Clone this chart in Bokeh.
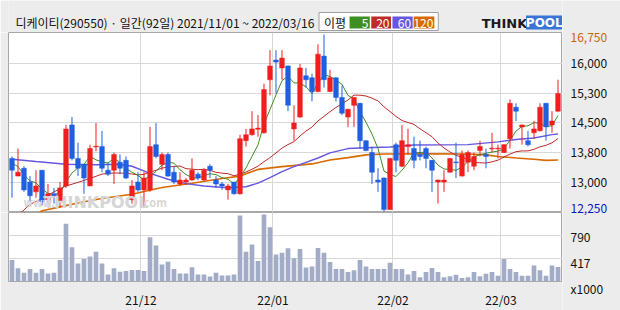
import numpy as np
from bokeh.plotting import figure
from bokeh.models import Range1d, FixedTicker, Grid, Label, ColumnDataSource
from bokeh.layouts import column, row
from bokeh.embed import file_html
from bokeh.resources import INLINE
from bokeh.core.properties import value

# ---------------- data ----------------
opens = [13600, 13150, 13350, 13000, 12750, 13300, 12550, 12700, 12500, 12900,
         14450, 13600, 13450, 12900, 13890, 13900, 13300, 13300, 13500, 13550,
         12550, 13000, 12800, 12800, 13950, 13450, 13700, 13250, 12950, 13000,
         13050, 13200, 13050, 13400, 13050, 12950, 12800, 13000, 12700, 14050,
         14200, 14340, 14250, 15600, 16100, 15900, 15950, 14350, 14650, 15700,
         15650, 15300, 16200, 15300, 15650, 15150, 14650, 14950, 15000, 14050,
         13750, 13050, 13100, 12300, 13950, 13400, 13900, 13850, 13700, 13850,
         13550, 13000, 13000, 13250, 13510, 13150, 13500, 13400, 13800, 13700,
         13840, 13840, 13750, 14100, 14900, 14400, 14050, 14250, 14300, 15000,
         14450, 14800]
highs = [13650, 13850, 13400, 13150, 13300, 13300, 12950, 12850, 13000, 14450,
         14650, 14000, 13450, 13950, 14500, 14300, 13500, 13750, 13700, 13650,
         13050, 13250, 13250, 14400, 14500, 13750, 13750, 13400, 13250, 13100,
         13600, 13250, 13350, 13450, 13150, 13000, 12950, 13000, 14200, 14350,
         14800, 14700, 15500, 16350, 16350, 16350, 15960, 14950, 16000, 15900,
         15750, 16500, 16750, 15850, 15660, 15450, 14860, 15160, 15010, 14060,
         13900, 13350, 13120, 13610, 14000, 14450, 14350, 14150, 14050, 13900,
         13560, 13060, 13300, 13610, 14000, 13800, 13800, 13750, 14050, 13850,
         14250, 13950, 13960, 15100, 15000, 14460, 14300, 14550, 15000, 15010,
         14800, 15600]
lows = [12600, 13150, 12750, 12500, 12600, 12400, 12500, 12450, 12350, 12850,
        13550, 13150, 12700, 12900, 13780, 13250, 13150, 12950, 13200, 13080,
        12450, 12750, 12350, 12750, 13600, 13300, 13130, 12950, 12900, 12920,
        13030, 13050, 13030, 13100, 12850, 12800, 12550, 12680, 12680, 13900,
        14180, 14150, 14230, 15200, 15250, 15600, 14800, 14050, 14630, 15400,
        15050, 15280, 15400, 15280, 15050, 14700, 14400, 14400, 13850, 13780,
        12950, 12750, 12250, 12290, 13250, 13380, 13700, 13350, 13550, 13350,
        12750, 12450, 12750, 13240, 13100, 13140, 13250, 13300, 13650, 13350,
        13750, 13600, 13740, 13850, 14550, 13950, 13900, 14100, 14290, 14050,
        14250, 14790]
closes = [13300, 13250, 12800, 12650, 12900, 12500, 12700, 12650, 12850, 14350,
          13600, 13350, 13100, 13850, 13910, 13350, 13200, 13700, 13350, 13100,
          12900, 12800, 13100, 13900, 13650, 13700, 13150, 13000, 13050, 13050,
          13300, 13100, 13300, 13300, 12950, 12900, 12900, 12700, 14100, 14200,
          14350, 14370, 15350, 15950, 16050, 16150, 14950, 14500, 15900, 15600,
          15300, 16250, 15600, 15650, 15150, 14750, 14850, 15150, 14050, 13800,
          13250, 13000, 12300, 13600, 13550, 14050, 13950, 13550, 13650, 13600,
          13300, 13050, 13050, 13600, 13490, 13700, 13750, 13650, 13900, 13650,
          13860, 13860, 13950, 15000, 14800, 14450, 13950, 14350, 14900, 14400,
          14550, 15250]
volumes = [392, 260, 186, 245, 186, 245, 172, 186, 392, 981,
           599, 334, 407, 451, 525, 334, 157, 260, 201, 216,
           230, 230, 216, 761, 628, 319, 363, 245, 172, 172,
           275, 157, 157, 127, 186, 142, 142, 157, 1114, 525,
           643, 378, 1129, 923, 481, 510, 584, 422, 571, 273,
           288, 586, 511, 362, 248, 248, 198, 228, 392, 288,
           248, 248, 248, 347, 248, 248, 158, 213, 114, 198,
           263, 198, 114, 129, 153, 99, 114, 198, 129, 168,
           198, 139, 407, 248, 198, 139, 139, 303, 228, 139,
           303, 280]

# moving-average values that depend on days before the window
ma5_head = [13480, 13390, 13180, 13030]
ma20_head_x = [1, 3, 5, 7, 9, 11, 13, 15, 17]
ma20_head = [12150, 12430, 12580, 12750, 12900, 12990, 13090, 13200, 13230]
ma60_x = [0, 4, 9, 14, 18, 20, 23, 26, 29, 32, 36, 39, 41, 43, 45, 47, 49, 51,
          53, 56, 59, 63, 67, 76, 81, 84, 87, 90, 91]
ma60 = [13580, 13520, 13450, 13440, 13450, 13400, 13220, 13070, 12960, 12900,
        12855, 12880, 12970, 13110, 13265, 13390, 13500, 13610, 13740, 13850,
        13870, 13890, 13940, 13950, 14020, 14080, 14120, 14205, 14220]
ma120_x = [4, 5, 9, 12, 15, 20, 25, 30, 35, 38, 41, 45, 50, 53, 56, 59, 62, 70,
           76, 79, 81, 84, 87, 89, 91]
ma120 = [12160, 12270, 12400, 12500, 12580, 12690, 12860, 12970, 13090, 13150,
         13320, 13390, 13460, 13560, 13620, 13690, 13710, 13720, 13710, 13690,
         13650, 13610, 13580, 13550, 13560]

month_pos = [21.5, 43.5, 63.5, 81.5]
month_labels = ["21/12", "22/01", "22/02", "22/03"]
price_ticks = [13000, 13750, 14500, 15250, 16000]
price_tick_labels = ["13,000", "13,800", "14,500", "15,300", "16,000"]
price_max, price_min = 16750, 12250
price_max_label, price_min_label = "16,750", "12,250"
vol_ticks = [44, 417, 790]
vol_tick_labels = ["x1000", "417", "790"]
title_text = "디케이티(290550) · 일간(92일) 2021/11/01 ~ 2022/03/16"
legend_title = "이평"
legend_items = ["5", "20", "60", "120"]

# ---------------- derived ----------------
n = len(closes)
xs = np.arange(n)
c_arr = np.array(closes, dtype=float)
ma5 = list(ma5_head) + [c_arr[i - 4:i + 1].mean() for i in range(4, n)]
ma20_x = list(ma20_head_x) + list(range(19, n))
ma20 = list(ma20_head) + [c_arr[i - 19:i + 1].mean() for i in range(19, n)]

RED = "#F01E1E"
BLUE = "#1F5FE0"
C5, C20, C60, C120 = "#3E8E22", "#C02A2A", "#6656E0", "#D86A00"
BG = "#ECECEC"
GRID = "#D8D8D8"
FRAME = "#A8A8A8"
FONT = "Noto Sans CJK KR"

up = [c >= o for o, c in zip(opens, closes)]
colors = [RED if u else BLUE for u in up]
btop = [max(o, c) for o, c in zip(opens, closes)]
bbot = [min(o, c) for o, c in zip(opens, closes)]
bbot = [b - 20 if t - b < 20 else b for t, b in zip(btop, bbot)]
src = ColumnDataSource(dict(x=xs, o=opens, h=highs, l=lows, c=closes, top=btop,
                            bot=bbot, col=colors, vol=volumes))

# panel geometry (pixels)
HEAD_H, PRICE_H, VOL_H, XLAB_H, RIGHT_W = 32, 180, 76, 22, 58
XR = Range1d(-0.583, 91.75)
YMIN, YMAX = 12225, 16800
VMIN, VMAX = 44, 1163
YR = Range1d(YMIN, YMAX)


def bare(fig):
    fig.border_fill_color = BG
    fig.background_fill_color = BG
    fig.grid.visible = False
    fig.outline_line_color = None
    return fig


# ---------------- header ----------------
hd = bare(figure(width=562, height=HEAD_H, x_range=Range1d(0, 562), y_range=Range1d(HEAD_H, 0),
                 output_backend="svg", toolbar_location=None, x_axis_location=None,
                 y_axis_location=None, min_border=0))
hd.text(x=[7], y=[22], text=[title_text], text_font=value(FONT), text_font_size="12px",
        text_color="#111111", text_baseline="middle")
hd.quad(left=[315], right=[436], top=[12], bottom=[30], fill_color="white",
        line_color="#A0A0A0", line_width=1)
hd.text(x=[320], y=[22], text=[legend_title], text_font=value(FONT), text_font_size="12px",
        text_color="#111111", text_baseline="middle")
hd.quad(left=[346, 368, 389.5, 411], right=[366.5, 388, 410, 432], top=[16] * 4,
        bottom=[28] * 4, fill_color=[C5, C20, C60, C120], line_color=None)
hd.text(x=[365, 386.5, 408.5, 431], y=[22.5] * 4, text=legend_items, text_font=value(FONT),
        text_font_size="12px", text_color="white", text_baseline="middle", text_align="right")
hd.text(x=[480], y=[22.5], text=["THINK"], text_font=value("DejaVu Sans"),
        text_font_size="13px", text_font_style="bold", text_color="#1A1A1A",
        text_baseline="middle")
hd.quad(left=[525], right=[562], top=[15], bottom=[29], fill_color="#3A74D6", line_color=None)
hd.text(x=[543.5], y=[22.5], text=["POOL"], text_font=value("DejaVu Sans"),
        text_font_size="12px", text_font_style="bold", text_color="white",
        text_baseline="middle", text_align="center")

# ---------------- price panel ----------------
p = figure(width=562, height=PRICE_H, x_range=XR, y_range=YR, output_backend="svg",
           toolbar_location=None, x_axis_location=None, y_axis_location=None,
           min_border_left=8, min_border_right=0, min_border_top=0, min_border_bottom=0)
p.border_fill_color = BG
p.background_fill_color = "white"
p.outline_line_color = FRAME
p.grid.visible = False
p.add_layout(Grid(dimension=0, ticker=FixedTicker(ticks=month_pos), grid_line_color=GRID))
p.add_layout(Grid(dimension=1, ticker=FixedTicker(ticks=price_ticks), grid_line_color=GRID))

# watermark
p.add_layout(Label(x=1.9, y=YMIN + 60, text="www.", text_font=FONT, text_font_size="11px",
                   text_color="#D6D6D6", text_font_style="bold"))
p.add_layout(Label(x=5.2, y=YMIN + 20, text="THINKPOOL", text_font="DejaVu Sans",
                   text_font_size="16px", text_color="#D6D6D6", text_font_style="bold"))
p.add_layout(Label(x=21.4, y=YMIN + 60, text=".com", text_font=FONT, text_font_size="11px",
                   text_color="#D6D6D6", text_font_style="bold"))

p.line(x=ma120_x, y=ma120, color=C120, line_width=1.6)
p.line(x=ma60_x, y=ma60, color=C60, line_width=1.4)
p.line(x=ma20_x, y=ma20, color=C20, line_width=1)
p.line(x=list(xs), y=ma5, color=C5, line_width=1)

p.segment(x0="x", y0="l", x1="x", y1="h", color="col", line_width=1, source=src)
p.vbar(x="x", width=0.78, top="top", bottom="bot", fill_color="col", line_color="col",
       line_width=0.5, source=src)

# ---------------- volume ----------------
v = figure(width=562, height=VOL_H + XLAB_H, x_range=XR, y_range=Range1d(VMIN, VMAX),
           output_backend="svg", toolbar_location=None, y_axis_location=None,
           min_border_left=8, min_border_right=0, min_border_top=0, min_border_bottom=XLAB_H)
v.border_fill_color = BG
v.background_fill_color = "white"
v.outline_line_color = FRAME
v.grid.visible = False
v.add_layout(Grid(dimension=0, ticker=FixedTicker(ticks=month_pos), grid_line_color=GRID))
v.add_layout(Grid(dimension=1, ticker=FixedTicker(ticks=vol_ticks[1:]), grid_line_color=GRID))
v.vbar(x="x", width=0.78, top="vol", bottom=0, fill_color="#A2ACC6", line_color=None, source=src)
xa = v.xaxis[0]
xa.ticker = FixedTicker(ticks=month_pos)
xa.major_label_overrides = {t: s for t, s in zip(month_pos, month_labels)}
xa.axis_line_color = None
xa.major_tick_line_color = None
xa.minor_tick_line_color = None
xa.major_label_text_font = FONT
xa.major_label_text_font_size = "12px"
xa.major_label_text_color = "#111111"
xa.major_label_standoff = 3

# ---------------- right-hand label column (one frame spanning the full height) ----------------
TOT_H = HEAD_H + PRICE_H + VOL_H + XLAB_H
ps = (YMAX - YMIN) / PRICE_H
vs = (VMAX - VMIN) / VOL_H
rc = bare(figure(width=RIGHT_W, height=TOT_H, x_range=Range1d(0, RIGHT_W),
                 y_range=Range1d(YMIN - (VOL_H + XLAB_H) * ps, YMAX + HEAD_H * ps),
                 output_backend="svg", toolbar_location=None, x_axis_location=None,
                 y_axis_location=None, min_border=0))
rc.extra_y_ranges = {"vol": Range1d(VMIN - XLAB_H * vs, VMAX + (HEAD_H + PRICE_H) * vs)}
rc.text(x=[8] * len(price_ticks), y=price_ticks, text=price_tick_labels,
        text_font=value(FONT), text_font_size="12px", text_color="#111111",
        text_baseline="middle")
rc.text(x=[8], y=[price_max], text=[price_max_label], text_font=value(FONT),
        text_font_size="12px", text_color="#C86400", text_baseline="middle", y_offset=3)
rc.text(x=[8], y=[price_min], text=[price_min_label], text_font=value(FONT),
        text_font_size="12px", text_color="#0A14C8", text_baseline="middle", y_offset=-3)
rc.text(x=[8] * len(vol_ticks), y=vol_ticks, text=vol_tick_labels, text_font=value(FONT),
        text_font_size="12px", text_color="#111111", text_baseline="middle",
        y_range_name="vol")

left = column(hd, p, v, spacing=0)
layout = row(left, rc, spacing=0)
html = file_html(layout, INLINE)
open("out.html", "w").write(html)
